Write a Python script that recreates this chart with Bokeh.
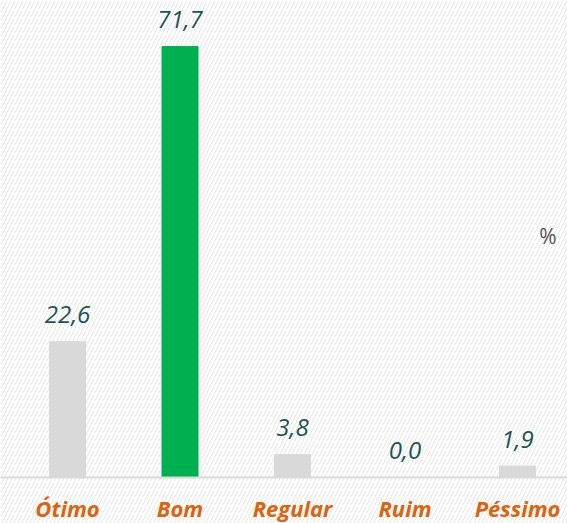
from bokeh.plotting import figure
from bokeh.models import BoxAnnotation, Span, ColumnDataSource, Range1d, Label
from bokeh.core.properties import value
from bokeh.embed import file_html
from bokeh.resources import INLINE

categories = ["Ótimo", "Bom", "Regular", "Ruim", "Péssimo"]
percentages = [22.6, 71.7, 3.8, 0.0, 1.9]
bar_colors = ["#D9D9D9", "#00B050", "#D9D9D9", "#D9D9D9", "#D9D9D9"]

xs = list(range(len(categories)))
labels = [f"{v:.1f}".replace(".", ",") for v in percentages]

src = ColumnDataSource(dict(x=xs, v=percentages, c=bar_colors, lab=labels, cat=categories))

p = figure(width=567, height=523, output_backend="svg", toolbar_location=None,
           x_range=Range1d(-0.5956, 4.444), y_range=Range1d(-7.65, 79.37),
           min_border=0, min_border_left=0, min_border_right=0,
           min_border_top=0, min_border_bottom=0)
p.axis.visible = False
p.grid.visible = False
p.outline_line_color = None
p.background_fill_color = "white"

p.add_layout(BoxAnnotation(fill_alpha=0, line_alpha=0, hatch_pattern="/",
                           hatch_color="#E6E6E6", hatch_scale=8, hatch_weight=1,
                           level="underlay"))

p.vbar(x="x", top="v", bottom=0, width=0.32, color="c", source=src)
p.add_layout(Span(location=0, dimension="width", line_color="#D9D9D9", line_width=2))

p.text(x="x", y="v", text="lab", source=src, y_offset=-27,
       text_align="center", text_baseline="middle",
       text_font=value("Open Sans"), text_font_style="italic",
       text_font_size="24px", text_color="#1B5656")

p.text(x="x", y=-5.0, text="cat", source=src,
       text_align="center", text_baseline="middle",
       text_font=value("Open Sans"), text_font_style="bold italic",
       text_font_size="22px", text_color="#DF620C")

p.add_layout(Label(x=4.27, y=40.2, text="%", text_align="center", text_baseline="middle",
                   text_font="Open Sans", text_font_size="21px", text_color="#555555"))

open("out.html", "w").write(file_html(p, INLINE))
